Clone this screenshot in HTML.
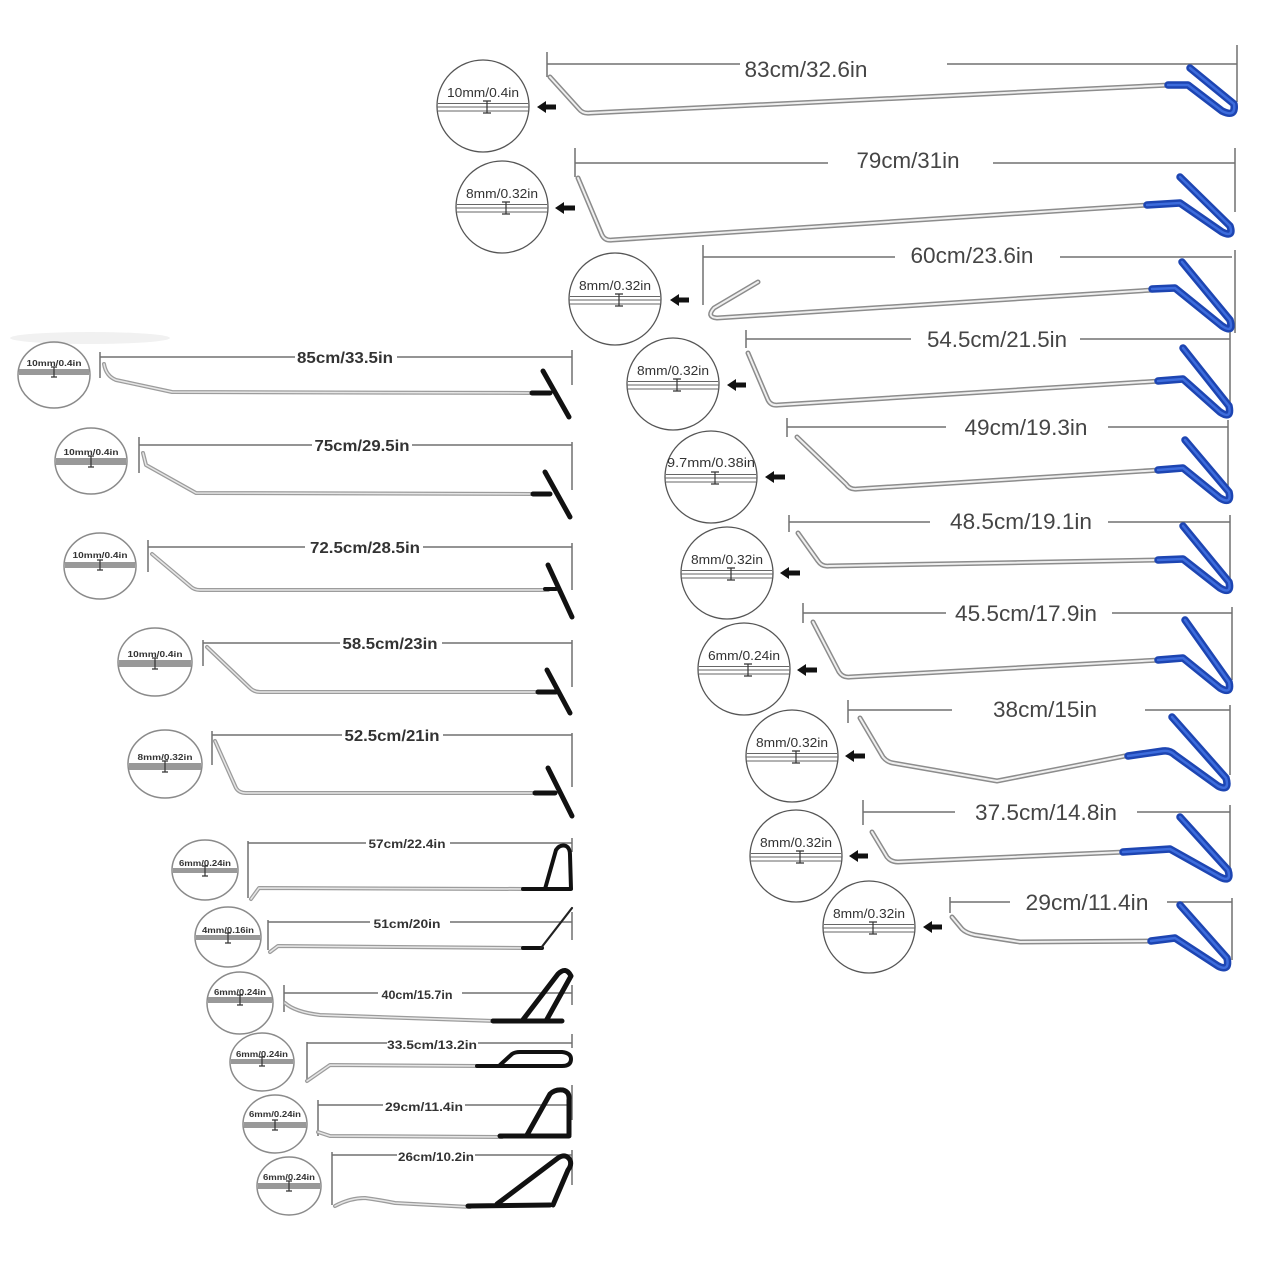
<!DOCTYPE html>
<html><head><meta charset="utf-8"><style>
html,body{margin:0;padding:0;background:#fff;}
svg{display:block}
.d{stroke:#707070;stroke-width:1.5;fill:none}
.ro{stroke:#8c8c8c;stroke-width:5;fill:none;stroke-linecap:round;stroke-linejoin:round}
.ri{stroke:#efefef;stroke-width:2;fill:none;stroke-linecap:round;stroke-linejoin:round}
.bo{stroke:#1d45b2;stroke-width:7.5;fill:none;stroke-linecap:round;stroke-linejoin:round}
.bi{stroke:#3d6cdc;stroke-width:2.5;fill:none;stroke-linecap:round;stroke-linejoin:round}
.lo{stroke:#9c9c9c;stroke-width:4;fill:none;stroke-linecap:round;stroke-linejoin:round}
.li{stroke:#e6e6e6;stroke-width:1.5;fill:none;stroke-linecap:round;stroke-linejoin:round}
.k{stroke:#111;stroke-width:5;fill:none;stroke-linecap:round;stroke-linejoin:round}
.k4{stroke:#111;stroke-width:4;fill:none;stroke-linecap:round;stroke-linejoin:round}
.c{stroke:#555;stroke-width:1.3;fill:none}
.ln{stroke:#666;stroke-width:1;fill:none}
.ib{stroke:#333;stroke-width:1.2;fill:none}
.lc{stroke:#8a8a8a;stroke-width:1.5;fill:none}
.t1{font-family:"Liberation Sans",sans-serif;font-size:22px;fill:#454545;text-anchor:middle}
.t2{font-family:"Liberation Sans",sans-serif;font-size:13px;fill:#333;text-anchor:middle}
.t3{font-family:"Liberation Sans",sans-serif;font-size:16px;font-weight:bold;fill:#333;text-anchor:middle}
.t4{font-family:"Liberation Sans",sans-serif;font-size:12px;font-weight:bold;fill:#333;text-anchor:middle}
.t5{font-family:"Liberation Sans",sans-serif;font-size:8.5px;font-weight:bold;fill:#333;text-anchor:middle}
.band{fill:#999}
.ar{fill:#111}
</style></head><body>
<svg width="1280" height="1280" viewBox="0 0 1280 1280" xmlns="http://www.w3.org/2000/svg">
<rect width="1280" height="1280" fill="#fff"/>
<ellipse cx="90" cy="338" rx="80" ry="6" fill="#f1f1f1"/>

<!-- ===== RIGHT SIDE ===== -->
<!-- R1 83cm -->
<path class="d" d="M547 52V77M547 64H740M947 64H1237M1237 45V102"/>
<text class="t1" x="806" y="77" textLength="123" lengthAdjust="spacingAndGlyphs">83cm/32.6in</text>
<path class="ro" d="M550 77L579 109Q583 114 590 113L1170 85"/>
<path class="ri" d="M550 77L579 109Q583 114 590 113L1170 85"/>
<path class="bo" d="M1168 85L1188 85L1222 111Q1236 118 1234 104L1190 68"/>
<path class="bi" d="M1168 85L1188 85L1222 111Q1236 118 1234 104L1190 68"/>

<!-- R2 79cm -->
<path class="d" d="M575 148V177M575 163H828M993 163H1235M1235 148V212"/>
<text class="t1" x="908" y="168" textLength="103" lengthAdjust="spacingAndGlyphs">79cm/31in</text>
<path class="ro" d="M578 178L602 235Q605 241 612 240L1148 205"/>
<path class="ri" d="M578 178L602 235Q605 241 612 240L1148 205"/>
<path class="bo" d="M1147 205L1180 203L1222 232Q1234 238 1230 226L1180 177"/>
<path class="bi" d="M1147 205L1180 203L1222 232Q1234 238 1230 226L1180 177"/>

<!-- R3 60cm -->
<path class="d" d="M703 245V305M703 257H895M1060 257H1232M1235 250V333"/>
<text class="t1" x="972" y="263" textLength="123" lengthAdjust="spacingAndGlyphs">60cm/23.6in</text>
<path class="ro" d="M758 282L714 308Q706 317 717 318L1153 290"/>
<path class="ri" d="M758 282L714 308Q706 317 717 318L1153 290"/>
<path class="bo" d="M1152 289L1175 288L1222 326Q1234 334 1230 320L1182 262"/>
<path class="bi" d="M1152 289L1175 288L1222 326Q1234 334 1230 320L1182 262"/>

<!-- R4 54.5cm -->
<path class="d" d="M746 330V348M746 339H911M1080 339H1230M1230 332V410"/>
<text class="t1" x="997" y="347" textLength="140" lengthAdjust="spacingAndGlyphs">54.5cm/21.5in</text>
<path class="ro" d="M748 353L768 400Q771 406 778 405L1160 381"/>
<path class="ri" d="M748 353L768 400Q771 406 778 405L1160 381"/>
<path class="bo" d="M1158 381L1183 379L1220 412Q1232 420 1229 406L1183 348"/>
<path class="bi" d="M1158 381L1183 379L1220 412Q1232 420 1229 406L1183 348"/>

<!-- R5 49cm -->
<path class="d" d="M787 418V437M787 427H946M1108 427H1228M1228 420V500"/>
<text class="t1" x="1026" y="435" textLength="123" lengthAdjust="spacingAndGlyphs">49cm/19.3in</text>
<path class="ro" d="M797 437L846 484Q850 490 857 489L1160 470"/>
<path class="ri" d="M797 437L846 484Q850 490 857 489L1160 470"/>
<path class="bo" d="M1158 470L1183 468L1220 498Q1232 505 1229 492L1185 440"/>
<path class="bi" d="M1158 470L1183 468L1220 498Q1232 505 1229 492L1185 440"/>

<!-- R6 48.5cm -->
<path class="d" d="M789 515V532M789 522H930M1108 522H1230M1230 515V585"/>
<text class="t1" x="1021" y="529" textLength="142" lengthAdjust="spacingAndGlyphs">48.5cm/19.1in</text>
<path class="ro" d="M798 533L818 561Q822 567 829 566L1160 560"/>
<path class="ri" d="M798 533L818 561Q822 567 829 566L1160 560"/>
<path class="bo" d="M1158 560L1183 559L1220 588Q1232 595 1229 582L1183 526"/>
<path class="bi" d="M1158 560L1183 559L1220 588Q1232 595 1229 582L1183 526"/>

<!-- R7 45.5cm -->
<path class="d" d="M803 603V623M803 613H946M1112 613H1232M1232 607V680"/>
<text class="t1" x="1026" y="621" textLength="142" lengthAdjust="spacingAndGlyphs">45.5cm/17.9in</text>
<path class="ro" d="M813 622L839 672Q843 678 850 677L1160 660"/>
<path class="ri" d="M813 622L839 672Q843 678 850 677L1160 660"/>
<path class="bo" d="M1158 660L1183 658L1220 688Q1232 695 1229 682L1185 620"/>
<path class="bi" d="M1158 660L1183 658L1220 688Q1232 695 1229 682L1185 620"/>

<!-- R8 38cm -->
<path class="d" d="M848 700V723M848 710H952M1145 710H1230M1230 705V775"/>
<text class="t1" x="1045" y="717" textLength="104" lengthAdjust="spacingAndGlyphs">38cm/15in</text>
<path class="ro" d="M860 718L883 757Q887 762 893 763L997 781L1130 755"/>
<path class="ri" d="M860 718L883 757Q887 762 893 763L997 781L1130 755"/>
<path class="bo" d="M1128 756L1163 751Q1170 750 1175 755L1218 786Q1230 792 1226 778L1172 717"/>
<path class="bi" d="M1128 756L1163 751Q1170 750 1175 755L1218 786Q1230 792 1226 778L1172 717"/>

<!-- R9 37.5cm -->
<path class="d" d="M863 800V825M863 812H955M1137 812H1230M1230 805V875"/>
<text class="t1" x="1046" y="820" textLength="142" lengthAdjust="spacingAndGlyphs">37.5cm/14.8in</text>
<path class="ro" d="M872 832L887 857Q891 862 898 862L1125 852"/>
<path class="ri" d="M872 832L887 857Q891 862 898 862L1125 852"/>
<path class="bo" d="M1123 852L1170 849L1220 877Q1232 883 1228 870L1180 817"/>
<path class="bi" d="M1123 852L1170 849L1220 877Q1232 883 1228 870L1180 817"/>

<!-- R10 29cm -->
<path class="d" d="M950 897V913M950 902H1010M1167 902H1232M1232 898V960"/>
<text class="t1" x="1087" y="910" textLength="123" lengthAdjust="spacingAndGlyphs">29cm/11.4in</text>
<path class="ro" d="M952 917L962 929Q966 933 975 935L1020 942L1153 941"/>
<path class="ri" d="M952 917L962 929Q966 933 975 935L1020 942L1153 941"/>
<path class="bo" d="M1151 941L1175 938L1218 966Q1230 972 1227 958L1180 905"/>
<path class="bi" d="M1151 941L1175 938L1218 966Q1230 972 1227 958L1180 905"/>

<!-- Right circles -->
<g>
<circle class="c" cx="483" cy="106" r="46"/>
<text class="t2" x="483" y="97" textLength="72" lengthAdjust="spacingAndGlyphs">10mm/0.4in</text>
<path class="ln" d="M438 103.5H528M437 107H529M438 111H528"/>
<path class="ib" d="M487 101V113M483 101H491M483 113H491"/>
<polygon class="ar" points="537,107 546,101 546,104.5 556,104.5 556,109.5 546,109.5 546,113"/>

<circle class="c" cx="502" cy="207" r="46"/>
<text class="t2" x="502" y="198" textLength="72" lengthAdjust="spacingAndGlyphs">8mm/0.32in</text>
<path class="ln" d="M457 204.5H547M456 208H548M457 212H547"/>
<path class="ib" d="M506 202V214M502 202H510M502 214H510"/>
<polygon class="ar" points="555,208 564,202 564,205.5 575,205.5 575,210.5 564,210.5 564,214"/>

<circle class="c" cx="615" cy="299" r="46"/>
<text class="t2" x="615" y="290" textLength="72" lengthAdjust="spacingAndGlyphs">8mm/0.32in</text>
<path class="ln" d="M570 296.5H660M569 300H661M570 304H660"/>
<path class="ib" d="M619 294V306M615 294H623M615 306H623"/>
<polygon class="ar" points="670,300 679,294 679,297.5 689,297.5 689,302.5 679,302.5 679,306"/>

<circle class="c" cx="673" cy="384" r="46"/>
<text class="t2" x="673" y="375" textLength="72" lengthAdjust="spacingAndGlyphs">8mm/0.32in</text>
<path class="ln" d="M628 381.5H718M627 385H719M628 389H718"/>
<path class="ib" d="M677 379V391M673 379H681M673 391H681"/>
<polygon class="ar" points="727,385 736,379 736,382.5 746,382.5 746,387.5 736,387.5 736,391"/>

<circle class="c" cx="711" cy="477" r="46"/>
<text class="t2" x="711" y="467" textLength="88" lengthAdjust="spacingAndGlyphs">9.7mm/0.38in</text>
<path class="ln" d="M666 474.5H756M665 478H757M666 482H756"/>
<path class="ib" d="M715 472V484M711 472H719M711 484H719"/>
<polygon class="ar" points="765,477 774,471 774,474.5 785,474.5 785,479.5 774,479.5 774,483"/>

<circle class="c" cx="727" cy="573" r="46"/>
<text class="t2" x="727" y="564" textLength="72" lengthAdjust="spacingAndGlyphs">8mm/0.32in</text>
<path class="ln" d="M682 570.5H772M681 574H773M682 578H772"/>
<path class="ib" d="M731 568V580M727 568H735M727 580H735"/>
<polygon class="ar" points="780,573 789,567 789,570.5 800,570.5 800,575.5 789,575.5 789,579"/>

<circle class="c" cx="744" cy="669" r="46"/>
<text class="t2" x="744" y="660" textLength="72" lengthAdjust="spacingAndGlyphs">6mm/0.24in</text>
<path class="ln" d="M699 666.5H789M698 670H790M699 674H789"/>
<path class="ib" d="M748 664V676M744 664H752M744 676H752"/>
<polygon class="ar" points="797,670 806,664 806,667.5 817,667.5 817,672.5 806,672.5 806,676"/>

<circle class="c" cx="792" cy="756" r="46"/>
<text class="t2" x="792" y="747" textLength="72" lengthAdjust="spacingAndGlyphs">8mm/0.32in</text>
<path class="ln" d="M747 753.5H837M746 757H838M747 761H837"/>
<path class="ib" d="M796 751V763M792 751H800M792 763H800"/>
<polygon class="ar" points="845,756 854,750 854,753.5 865,753.5 865,758.5 854,758.5 854,762"/>

<circle class="c" cx="796" cy="856" r="46"/>
<text class="t2" x="796" y="847" textLength="72" lengthAdjust="spacingAndGlyphs">8mm/0.32in</text>
<path class="ln" d="M751 853.5H841M750 857H842M751 861H841"/>
<path class="ib" d="M800 851V863M796 851H804M796 863H804"/>
<polygon class="ar" points="849,856 858,850 858,853.5 868,853.5 868,858.5 858,858.5 858,862"/>

<circle class="c" cx="869" cy="927" r="46"/>
<text class="t2" x="869" y="918" textLength="72" lengthAdjust="spacingAndGlyphs">8mm/0.32in</text>
<path class="ln" d="M824 924.5H914M823 928H915M824 932H914"/>
<path class="ib" d="M873 922V934M869 922H877M869 934H877"/>
<polygon class="ar" points="923,927 932,921 932,924.5 942,924.5 942,929.5 932,929.5 932,933"/>
</g>

<!-- ===== LEFT SIDE ===== -->
<!-- L1 85cm -->
<path class="d" d="M100 352V378M100 357H295M397 357H572M572 350V385"/>
<text class="t3" x="345" y="363" textLength="96" lengthAdjust="spacingAndGlyphs">85cm/33.5in</text>
<path class="lo" d="M104 364Q106 376 116 380L172 392L533 393"/>
<path class="li" d="M104 364Q106 376 116 380L172 392L533 393"/>
<path class="k" d="M532 393H550M543 371L569 417"/>

<!-- L2 75cm -->
<path class="d" d="M139 437V473M139 445H312M412 445H572M572 442V490"/>
<text class="t3" x="362" y="451" textLength="95" lengthAdjust="spacingAndGlyphs">75cm/29.5in</text>
<path class="lo" d="M143 453L146 465L196 493L535 494"/>
<path class="li" d="M143 453L146 465L196 493L535 494"/>
<path class="k" d="M533 494H550M545 472L570 517"/>

<!-- L3 72.5cm -->
<path class="d" d="M148 540V572M148 547H305M423 547H572M572 543V590"/>
<text class="t3" x="365" y="553" textLength="110" lengthAdjust="spacingAndGlyphs">72.5cm/28.5in</text>
<path class="lo" d="M152 554L190 586Q194 590 200 590L548 590"/>
<path class="li" d="M152 554L190 586Q194 590 200 590L548 590"/>
<path class="k4" d="M545 589H556"/>
<path class="k" d="M548 565L572 617"/>

<!-- L4 58.5cm -->
<path class="d" d="M203 640V666M203 643H340M442 643H572M572 640V687"/>
<text class="t3" x="390" y="649" textLength="95" lengthAdjust="spacingAndGlyphs">58.5cm/23in</text>
<path class="lo" d="M207 647L250 688Q254 692 260 692L540 692"/>
<path class="li" d="M207 647L250 688Q254 692 260 692L540 692"/>
<path class="k" d="M538 692H556M547 670L570 713"/>

<!-- L5 52.5cm -->
<path class="d" d="M212 731V765M212 735H342M443 735H572M572 733V787"/>
<text class="t3" x="392" y="741" textLength="95" lengthAdjust="spacingAndGlyphs">52.5cm/21in</text>
<path class="lo" d="M215 741L236 788Q239 793 246 793L537 793"/>
<path class="li" d="M215 741L236 788Q239 793 246 793L537 793"/>
<path class="k" d="M535 793H555M548 768L572 816"/>

<!-- L6 57cm -->
<path class="d" d="M248 841V898M248 843H366M450 843H572M572 838V852"/>
<text class="t4" x="407" y="848" textLength="77" lengthAdjust="spacingAndGlyphs">57cm/22.4in</text>
<path class="lo" d="M251 899L259 888L525 889"/>
<path class="li" d="M251 899L259 888L525 889"/>
<path class="k4" d="M523 889H570M545 889L556 850Q560 844 566 846Q570 848 570 855L571 889"/>

<!-- L7 51cm -->
<path class="d" d="M268 920V950M268 922H370M450 922H572M572 912V940"/>
<text class="t4" x="407" y="928" textLength="67" lengthAdjust="spacingAndGlyphs">51cm/20in</text>
<path class="lo" d="M270 952L278 946L525 948"/>
<path class="li" d="M270 952L278 946L525 948"/>
<path class="k4" d="M523 948H542"/>
<path style="stroke:#222;stroke-width:2.2;fill:none;stroke-linecap:round" d="M541 948L572 908"/>

<!-- L8 40cm -->
<path class="d" d="M284 985V1012M284 993H378M462 993H572M572 985V1005"/>
<text class="t4" x="417" y="999" textLength="71" lengthAdjust="spacingAndGlyphs">40cm/15.7in</text>
<path class="lo" d="M285 1003Q295 1012 320 1015L495 1021"/>
<path class="li" d="M285 1003Q295 1012 320 1015L495 1021"/>
<path class="k" d="M493 1021H562M522 1021L558 974Q566 966 571 976L546 1021"/>

<!-- L9 33.5cm -->
<path class="d" d="M307 1042V1082M307 1043H387M478 1043H572M572 1034V1048"/>
<text class="t4" x="432" y="1049" textLength="90" lengthAdjust="spacingAndGlyphs">33.5cm/13.2in</text>
<path class="lo" d="M307 1081L330 1065L478 1066"/>
<path class="li" d="M307 1081L330 1065L478 1066"/>
<path class="k4" d="M477 1066H562M500 1065L512 1054Q515 1052 520 1052L562 1052Q571 1053 571 1059Q571 1066 562 1066"/>

<!-- L10 29cm -->
<path class="d" d="M318 1100V1136M318 1105H383M465 1105H572M572 1085V1120"/>
<text class="t4" x="424" y="1111" textLength="78" lengthAdjust="spacingAndGlyphs">29cm/11.4in</text>
<path class="lo" d="M318 1132L330 1136L502 1137"/>
<path class="li" d="M318 1132L330 1136L502 1137"/>
<path class="k" d="M500 1136H569M527 1135L550 1094Q555 1089 563 1090Q570 1092 569 1100L569 1135"/>

<!-- L11 26cm -->
<path class="d" d="M332 1152V1205M332 1155H397M475 1155H572M572 1150V1185"/>
<text class="t4" x="436" y="1161" textLength="76" lengthAdjust="spacingAndGlyphs">26cm/10.2in</text>
<path class="lo" d="M335 1206Q350 1198 365 1198Q380 1200 395 1203L470 1207"/>
<path class="li" d="M335 1206Q350 1198 365 1198Q380 1200 395 1203L470 1207"/>
<path class="k" d="M468 1206L550 1205M497 1204L558 1158Q566 1153 570 1160Q572 1165 568 1170L553 1205"/>

<!-- Left circles -->
<g>
<ellipse class="lc" cx="54" cy="375" rx="36" ry="33"/>
<text class="t5" x="54" y="366" textLength="55" lengthAdjust="spacingAndGlyphs">10mm/0.4in</text>
<rect class="band" x="19" y="369" width="70" height="6"/>
<path class="ib" d="M54 367V377M51 367H57M51 377H57"/>

<ellipse class="lc" cx="91" cy="461" rx="36" ry="33"/>
<text class="t5" x="91" y="455" textLength="55" lengthAdjust="spacingAndGlyphs">10mm/0.4in</text>
<rect class="band" x="56" y="458" width="70" height="7"/>
<path class="ib" d="M91 456V467M88 456H94M88 467H94"/>

<ellipse class="lc" cx="100" cy="566" rx="36" ry="33"/>
<text class="t5" x="100" y="558" textLength="55" lengthAdjust="spacingAndGlyphs">10mm/0.4in</text>
<rect class="band" x="65" y="562" width="70" height="6"/>
<path class="ib" d="M100 560V570M97 560H103M97 570H103"/>

<ellipse class="lc" cx="155" cy="662" rx="37" ry="34"/>
<text class="t5" x="155" y="657" textLength="55" lengthAdjust="spacingAndGlyphs">10mm/0.4in</text>
<rect class="band" x="119" y="660" width="72" height="7"/>
<path class="ib" d="M155 658V669M152 658H158M152 669H158"/>

<ellipse class="lc" cx="165" cy="764" rx="37" ry="34"/>
<text class="t5" x="165" y="760" textLength="55" lengthAdjust="spacingAndGlyphs">8mm/0.32in</text>
<rect class="band" x="129" y="763" width="72" height="7"/>
<path class="ib" d="M165 761V772M162 761H168M162 772H168"/>

<ellipse class="lc" cx="205" cy="870" rx="33" ry="30"/>
<text class="t5" x="205" y="866" textLength="52" lengthAdjust="spacingAndGlyphs">6mm/0.24in</text>
<rect class="band" x="173" y="868" width="64" height="5"/>
<path class="ib" d="M205 866V876M202 866H208M202 876H208"/>

<ellipse class="lc" cx="228" cy="937" rx="33" ry="30"/>
<text class="t5" x="228" y="933" textLength="52" lengthAdjust="spacingAndGlyphs">4mm/0.16in</text>
<rect class="band" x="196" y="935" width="64" height="5"/>
<path class="ib" d="M228 933V943M225 933H231M225 943H231"/>

<ellipse class="lc" cx="240" cy="1003" rx="33" ry="31"/>
<text class="t5" x="240" y="995" textLength="52" lengthAdjust="spacingAndGlyphs">6mm/0.24in</text>
<rect class="band" x="208" y="997" width="64" height="6"/>
<path class="ib" d="M240 995V1005M237 995H243M237 1005H243"/>

<ellipse class="lc" cx="262" cy="1062" rx="32" ry="29"/>
<text class="t5" x="262" y="1057" textLength="52" lengthAdjust="spacingAndGlyphs">6mm/0.24in</text>
<rect class="band" x="231" y="1059" width="62" height="5"/>
<path class="ib" d="M262 1057V1066M259 1057H265M259 1066H265"/>

<ellipse class="lc" cx="275" cy="1124" rx="32" ry="29"/>
<text class="t5" x="275" y="1117" textLength="52" lengthAdjust="spacingAndGlyphs">6mm/0.24in</text>
<rect class="band" x="244" y="1122" width="62" height="6"/>
<path class="ib" d="M275 1120V1130M272 1120H278M272 1130H278"/>

<ellipse class="lc" cx="289" cy="1186" rx="32" ry="29"/>
<text class="t5" x="289" y="1180" textLength="52" lengthAdjust="spacingAndGlyphs">6mm/0.24in</text>
<rect class="band" x="258" y="1183" width="62" height="6"/>
<path class="ib" d="M289 1181V1191M286 1181H292M286 1191H292"/>
</g>
</svg>
</body></html>
